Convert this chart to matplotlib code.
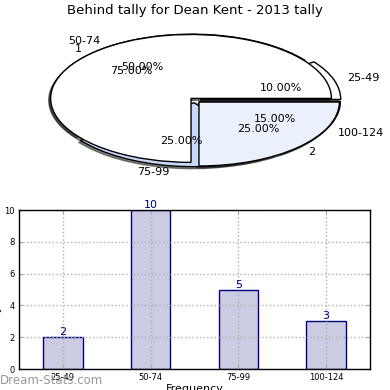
import matplotlib
matplotlib.use("Agg")
import matplotlib.pyplot as plt

title = "Behind tally for Dean Kent - 2013 tally"
categories = ["25-49", "50-74", "75-99", "100-124"]
counts = [2, 10, 5, 3]
second_labels = ["1", "2"]
second_values = [75, 25]

fig = plt.figure(figsize=(3.9, 3.9), dpi=100)

# ---- pie (stretched) ----
axp = fig.add_axes([0.05, 0.538, 0.90, 0.41])
shadow = {"ox": -0.01, "oy": -0.022, "shade": 0.9}
axp.pie(counts, labels=categories, autopct="%.2f%%", shadow=shadow,
        explode=[0.04] * len(counts),
        colors=["white", "white", "#c8d8f8", "#e8eefc"],
        wedgeprops=dict(edgecolor="black", linewidth=1),
        textprops=dict(fontsize=8))
axp.pie(second_values, labels=second_labels, autopct="%.2f%%", shadow=shadow,
        explode=[0.04] * len(second_values),
        colors=["white", "#ebf0fd"],
        wedgeprops=dict(edgecolor="black", linewidth=1),
        textprops=dict(fontsize=8))
axp.set_aspect("auto")
axp.set_xlim(-1.25, 1.25)
axp.set_ylim(-1.25, 1.25)
fig.text(0.5, 0.973, title, ha="center", va="center", fontsize=9.5)

# ---- bars ----
axb = fig.add_axes([0.0487, 0.0538, 0.9, 0.4077])
x = list(range(len(categories)))
bars = axb.bar(x, counts, width=0.45, color="#cbcbe4", edgecolor="#000080",
               linewidth=1, zorder=1)
for xi, v in zip(x, counts):
    axb.text(xi, v, str(v), ha="center", va="bottom", color="#000080",
             fontsize=8, zorder=5)
axb.set_xlim(-0.5, len(categories) - 0.5)
axb.set_ylim(0, 10)
axb.set_xticks(x)
axb.set_xticklabels(categories)
axb.set_yticks([0, 2, 4, 6, 8, 10])
axb.tick_params(direction="in", top=True, right=True, labelsize=6,
                color="#aaaaaa", length=3, pad=3)
axb.set_axisbelow(False)
axb.grid(True, linestyle=":", color="#b0b0b0", linewidth=1)
axb.set_xlabel("Frequency", fontsize=8, labelpad=1)
axb.set_ylabel("Tally Instances", fontsize=8, labelpad=2)
for s in axb.spines.values():
    s.set_linewidth(1)
    s.set_zorder(4)

fig.text(0.0, 0.008, "Dream-Stats.com", ha="left", va="bottom",
         fontsize=8.5, color="#999999")

fig.savefig("out.png", dpi=100)
